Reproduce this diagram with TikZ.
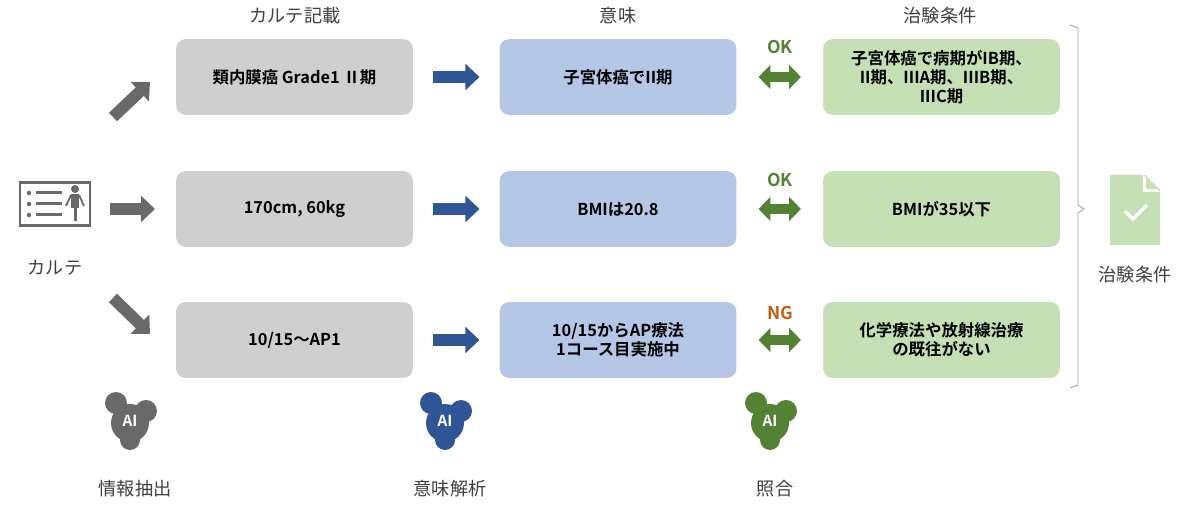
\documentclass[tikz,border=0pt]{standalone}
\usepackage{fontspec}
\setmainfont{Noto Sans CJK JP}[BoldFont={* Bold}]
\usetikzlibrary{arrows.meta,positioning}
\definecolor{gbox}{RGB}{208,207,207}
\definecolor{bbox}{RGB}{180,199,231}
\definecolor{grbox}{RGB}{197,224,180}
\definecolor{garr}{RGB}{105,105,105}
\definecolor{barr}{RGB}{47,85,151}
\definecolor{grarr}{RGB}{84,130,53}
\definecolor{ngc}{RGB}{197,90,17}
\definecolor{txt}{RGB}{64,64,64}
\tikzset{
 x=0.03cm,y=-0.03cm,
 box/.style={rounded corners=8pt,minimum width=7.1cm,minimum height=2.27cm,align=center,font=\bfseries\fontsize{14}{16.5}\selectfont,text=black,inner sep=2pt},
 hdr/.style={font=\fontsize{15.5}{18}\selectfont,text=txt},
 fat/.style={line width=10pt,-{Triangle[length=12pt,width=22pt]}},
 dbl/.style={line width=8pt,grarr,{Triangle[length=10pt,width=20pt]}-{Triangle[length=10pt,width=20pt]}},
 lbl/.style={font=\bfseries\fontsize{15}{17}\selectfont},
}
\begin{document}
\begin{tikzpicture}
\useasboundingbox[fill=white] (0,0) rectangle (1200,511);
% headers
\node[hdr] (h1) at (295,16) {カルテ記載};
\node[hdr] (h2) at (618,16) {意味};
\node[hdr] (h3) at (940,16) {治験条件};
% boxes
\foreach \n/\y in {1/77,2/209,3/340}{
 \node[box,fill=gbox] (g\n) at (294.5,\y) {};
 \node[box,fill=bbox] (b\n) at (618,\y) {};
 \node[box,fill=grbox] (c\n) at (941.5,\y) {};
}
\node[box] at (g1) {類内膜癌 Grade1 Ⅱ期};
\node[box] at (g2) {170cm, 60kg};
\node[box] at (g3) {10/15～AP1};
\node[box] at (b1) {子宮体癌でII期};
\node[box] at (b2) {BMIは20.8};
\node[box] at (b3) {10/15からAP療法\\1コース目実施中};
\node[box] at (c1) {子宮体癌で病期がIB期、\\II期、IIIA期、IIIB期、\\IIIC期};
\node[box] at (c2) {BMIが35以下};
\node[box] at (c3) {化学療法や放射線治療\\の既往がない};
% blue / green arrows
\foreach \n in {1,2,3}{
 \draw[fat,barr,shorten <=0.6cm,shorten >=0.6cm] (g\n.east) -- (b\n.west);
 \draw[dbl,shorten <=0.66cm,shorten >=0.66cm] (b\n.east) -- (c\n.west);
}
\node[lbl,text=grarr] (ok1) at (780,47) {OK};
\node[lbl,text=grarr] (ok2) at (780,180) {OK};
\node[lbl,text=ngc] (ng3) at (780,313) {NG};
% chart icon
\node[draw=garr,line width=2.5pt,minimum width=2.1cm,minimum height=1.3cm,inner sep=0] (card) at (55,204) {};
\foreach \yy in {193,204,215}{
 \fill[garr] (29,\yy) circle (2.2);
 \fill[garr] (36,\yy-1.5) rectangle (62,\yy+1.5);
}
\fill[garr] (75,189) circle (4);
\fill[garr] (71,194) rectangle (79,208);
\fill[garr] (73.5,206) rectangle (76.5,221);
\draw[garr,line width=1.5pt] (71,195) -- (66,206) (79,195) -- (84,206);
\node[hdr] (kt) at (55,268) {カルテ};
% gray arrows
\coordinate (s1) at (113,117); \coordinate (e1) at (150,82);
\coordinate (s2) at (110,209); \coordinate (e2) at (155,209);
\coordinate (s3) at (113,298); \coordinate (e3) at (150,334);
\draw[fat,garr] (s1) -- (e1);
\draw[fat,garr] (s2) -- (e2);
\draw[fat,garr] (s3) -- (e3);
% brace
\draw[line width=0.8pt,gray!70] (1070,25) -- (1078,28) -- (1078,205) -- (1084,209) -- (1078,213) -- (1078,385) -- (1070,388);
% document icon
\fill[grbox] (1110,175) -- (1145,175) -- (1160,190) -- (1160,245) -- (1110,245) -- cycle;
\fill[white] (1143,175) -- (1143,192) -- (1160,192) -- cycle;
\fill[grbox] (1146,178) -- (1146,189) -- (1157,189) -- cycle;
\draw[white,line width=3pt] (1125,211) -- (1133,219) -- (1147,205);
\node[hdr] (dl) at (1135,275) {治験条件};
% AI blobs
\foreach \x/\c/\n/\t in {130/garr/a1/情報抽出,445/barr/a2/意味解析,770/grarr/a3/照合}{
 \fill[\c] (\x,423) circle (19) (\x-14,403) circle (11) (\x+16,411) circle (11) (\x,440) circle (10);
 \node[font=\bfseries\fontsize{13}{15}\selectfont,text=white] (\n) at (\x,421) {AI};
 \node[hdr] (\n l) at (\x+5,489) {\t};
}
\end{tikzpicture}
\end{document}
